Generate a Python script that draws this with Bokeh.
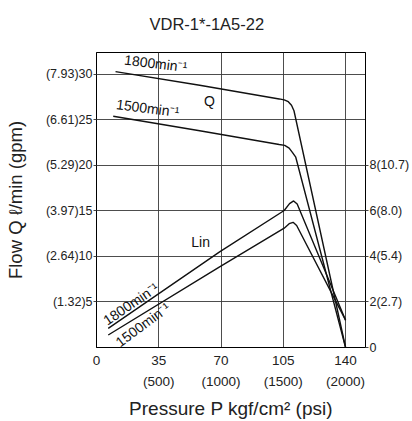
from bokeh.plotting import figure
from bokeh.models import Range1d, LinearAxis, FixedTicker, Title
from bokeh.core.properties import value
from bokeh.embed import file_html
from bokeh.resources import INLINE

FONT = "Liberation Sans"

# ---- axis ticks / labels ----
pressure_ticks = [0, 35, 70, 105, 140]
pressure_labels = ["0", "35\n(500)", "70\n(1000)", "105\n(1500)", "140\n(2000)"]
flow_ticks = [5, 10, 15, 20, 25, 30]
flow_labels = ["(1.32)5", "(2.64)10", "(3.97)15", "(5.29)20", "(6.61)25", "(7.93)30"]
power_ticks = [0, 2, 4, 6, 8]
power_labels = ["0", "2(2.7)", "4(5.4)", "6(8.0)", "8(10.7)"]

# ---- flow curves (L/min) ----
q1800_p = [10.7, 58, 102.7, 105.5, 107.8, 109.6, 111.0, 140]
q1800_q = [30.3, 28.8, 27.3, 27.2, 27.0, 26.6, 26.0, 0.0]
q1500_p = [9.4, 58, 102.7, 105.8, 108.3, 110.2, 112.0, 140]
q1500_q = [25.4, 23.8, 22.3, 22.2, 21.9, 21.4, 20.9, 0.0]

# ---- input power curves (kW) ----
lin1800_p = [6.6, 69.2, 105.5, 108.5, 110.8, 112.8, 140]
lin1800_kw = [0.84, 4.2, 6.02, 6.32, 6.44, 6.3, 1.2]
lin1500_p = [6.6, 69.2, 105.5, 108.3, 110.5, 112.5, 140]
lin1500_kw = [0.55, 3.54, 5.24, 5.44, 5.5, 5.36, 1.2]

Y_TOP = 32.4

p = figure(width=412, height=421, title=None,
           x_range=Range1d(0, 151.2), y_range=Range1d(0, Y_TOP),
           output_backend="svg", toolbar_location=None,
           min_border_left=96, min_border_right=46,
           min_border_top=52, min_border_bottom=73)
p.extra_y_ranges = {"kw": Range1d(0, Y_TOP / 2.5)}

# spacer (closest to frame) then the real title
p.add_layout(Title(text=" ", text_font_size="10px", standoff=7), "above")
p.add_layout(Title(text="VDR-1*-1A5-22", align="left", offset=53,
                   text_font=FONT, text_font_size="16.5px",
                   text_font_style="normal", text_color="#222222",
                   standoff=0), "above")

p.outline_line_color = "black"
p.outline_line_width = 1
p.background_fill_color = "white"
p.border_fill_color = "white"

def style_axis(ax, size):
    ax.axis_line_color = "black"
    ax.major_tick_line_color = "#444444"
    ax.major_tick_in = 0
    ax.minor_tick_line_color = None
    ax.major_label_text_font = FONT
    ax.major_label_text_font_size = size
    ax.major_label_text_color = "#222222"
    ax.axis_label_text_font = FONT
    ax.axis_label_text_font_style = "normal"
    ax.axis_label_text_color = "#222222"

xa = p.xaxis[0]
style_axis(xa, "13.5px")
xa.ticker = FixedTicker(ticks=pressure_ticks)
xa.major_label_overrides = {t: l for t, l in zip(pressure_ticks, pressure_labels)}
xa.major_tick_out = 0
xa.major_label_standoff = 5
xa.major_label_text_line_height = 1.4
xa.axis_label = "Pressure P kgf/cm\u00b2 (psi)"
xa.axis_label_text_font_size = "19px"
xa.axis_label_standoff = 6

ya = p.yaxis[0]
style_axis(ya, "12.5px")
ya.ticker = FixedTicker(ticks=flow_ticks)
ya.major_label_overrides = {t: l for t, l in zip(flow_ticks, flow_labels)}
ya.major_tick_out = 3
ya.major_label_standoff = 1
ya.axis_label = "Flow Q \u2113/min (gpm)"
ya.axis_label_text_font_size = "18.5px"
ya.axis_label_standoff = 17

ra = LinearAxis(y_range_name="kw", ticker=FixedTicker(ticks=power_ticks))
style_axis(ra, "12.5px")
ra.major_label_overrides = {t: l for t, l in zip(power_ticks, power_labels)}
ra.major_tick_out = 3
ra.major_label_standoff = 1
p.add_layout(ra, "right")

p.xgrid.ticker = FixedTicker(ticks=[35, 70, 105, 140])
p.ygrid.ticker = FixedTicker(ticks=flow_ticks)
for g in (p.xgrid, p.ygrid):
    g.grid_line_color = "#3a3a3a"
    g.grid_line_width = 1
    g.grid_line_alpha = 0.9

lw = 1.4
p.line(q1800_p, q1800_q, line_color="#111111", line_width=lw)
p.line(q1500_p, q1500_q, line_color="#111111", line_width=lw)
p.line(lin1800_p, lin1800_kw, line_color="#111111", line_width=lw, y_range_name="kw")
p.line(lin1500_p, lin1500_kw, line_color="#111111", line_width=lw, y_range_name="kw")

p.text(x=[33.3, 28.8, 19.3, 26.0], y=[31.2, 26.3, 4.8, 2.5],
       text=["1800min\u207b\u00b9", "1500min\u207b\u00b9", "1800min\u207b\u00b9", "1500min\u207b\u00b9"],
       angle=[-0.12, -0.13, 0.6, 0.64],
       text_font=value(FONT), text_font_size="14px", text_color="#111111",
       text_align="center", text_baseline="middle")
p.text(x=[63.5, 58.5], y=[27.1, 11.6], text=["Q", "Lin"],
       text_font=value(FONT), text_font_size="14px", text_color="#111111",
       text_align="center", text_baseline="middle")

open("out.html", "w").write(file_html(p, INLINE))
